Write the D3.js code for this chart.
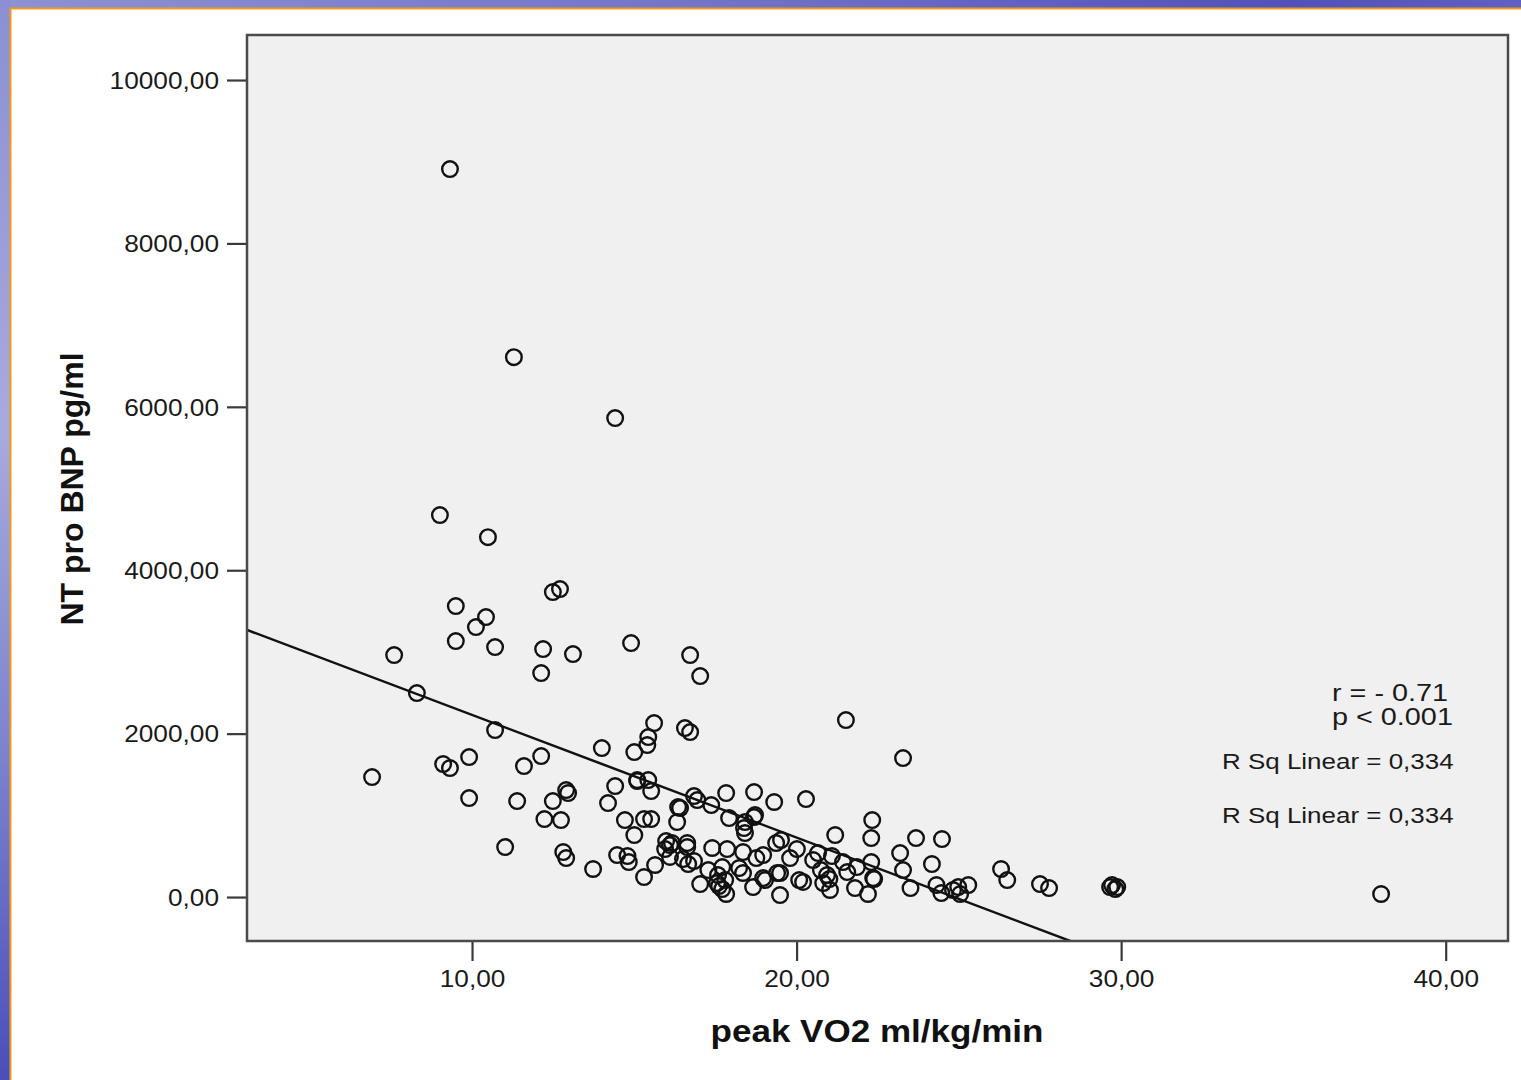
<!DOCTYPE html>
<html>
<head>
<meta charset="utf-8">
<script src="https://cdn.jsdelivr.net/npm/d3@7"></script>
<style>
  html, body { margin: 0; padding: 0; background: #ffffff; }
  svg { display: block; font-family: "Liberation Sans", Arial, sans-serif; }
</style>
</head>
<body>
<svg id="chart" width="1521" height="1080"></svg>
<script>
// peak VO2 (ml/kg/min) for each patient
const peakVO2 = [
  9.32, 11.29, 14.41, 9.01, 10.49, 12.49, 12.71, 9.50, 10.43, 10.12,
  9.50, 10.71, 12.19, 13.11, 14.90, 7.60, 12.13, 16.72, 17.03, 8.30,
  15.61, 21.52, 16.56, 16.72, 10.71, 15.43, 15.40, 15.00, 14.00, 23.28,
  12.13, 9.91, 9.11, 9.32, 11.60, 6.92, 15.09, 15.43, 14.41, 15.52,
  12.90, 12.96, 9.91, 11.39, 12.49, 14.19, 16.84, 16.94, 17.37, 17.83,
  18.69, 19.31, 20.29, 16.41, 12.23, 12.74, 15.52, 15.30, 14.71, 16.32,
  17.92, 18.69, 18.38, 18.41, 22.33, 15.00, 21.19, 22.30, 23.68, 24.48,
  19.37, 19.52, 15.98, 16.16, 16.63, 15.95, 17.40, 17.86, 20.01, 18.35,
  20.66, 23.19, 11.02, 12.81, 12.90, 14.47, 14.79, 14.83, 15.64, 16.50,
  16.66, 16.84, 18.76, 18.97, 19.80, 21.09, 21.43, 22.30, 24.17, 26.30,
  13.73, 17.28, 17.71, 18.23, 18.35, 19.49, 20.75, 20.94, 23.28, 22.39,
  15.30, 19.03, 20.08, 20.20, 20.82, 21.01, 17.03, 17.55, 17.61, 17.71,
  17.83, 18.66, 19.49, 21.80, 22.20, 21.03, 23.51, 24.31, 24.46, 24.98,
  25.04, 25.29, 26.49, 27.50, 27.78, 29.66, 29.82, 29.88, 38.01, 29.72,
  17.58, 17.80, 20.51, 21.56, 21.86, 22.36, 18.97, 19.40, 16.10, 16.63,
  16.10, 18.41, 18.72, 16.35, 15.09, 24.82
];

// NT pro BNP (pg/ml), same order as peakVO2
const ntProBNP = [
  8910, 6608, 5862, 4675, 4405, 3733, 3769, 3561, 3427, 3304,
  3133, 3059, 3035, 2974, 3108, 2961, 2741, 2961, 2704, 2496,
  2129, 2166, 2068, 2019, 2044, 1958, 1860, 1774, 1823, 1701,
  1725, 1713, 1628, 1579, 1603, 1468, 1432, 1432, 1358, 1297,
  1309, 1273, 1211, 1175, 1175, 1150, 1236, 1187, 1126, 1273,
  1285, 1163, 1199, 1089, 954, 942, 954, 954, 942, 918,
  967, 979, 844, 783, 942, 759, 759, 722, 722, 710,
  661, 698, 685, 661, 661, 587, 600, 587, 587, 551,
  538, 538, 612, 551, 477, 514, 502, 428, 392, 465,
  404, 441, 477, 514, 477, 502, 428, 428, 404, 343,
  343, 330, 367, 355, 294, 294, 330, 269, 330, 220,
  245, 208, 208, 184, 171, 220, 159, 171, 135, 98,
  37, 122, 24, 110, 37, 86, 110, 147, 49, 122,
  37, 147, 208, 159, 110, 122, 98, 122, 37, 147,
  269, 208, 453, 306, 367, 232, 232, 294, 490, 612,
  636, 918, 1004, 1101, 1420, 86
];

const xTicks = [10, 20, 30, 40];
const yTicks = [0, 2000, 4000, 6000, 8000, 10000];

// linear fit line: BNP = fitIntercept + fitSlope * VO2
const fitIntercept = 3730;
const fitSlope = -150.1;

const annotationLines = ["r = - 0.71", "p < 0.001"];
const rsqLabel = "R Sq Linear = 0,334";

const svg = d3.select("#chart");
const W = 1521, H = 1080;

// slide frame: blue band on top and left, white panel with orange edge
const defs = svg.append("defs");
const gTop = defs.append("linearGradient").attr("id", "bandTop")
  .attr("x1", 0).attr("x2", 1).attr("y1", 0).attr("y2", 0);
gTop.append("stop").attr("offset", "0%").attr("stop-color", "#8e91d2");
gTop.append("stop").attr("offset", "50%").attr("stop-color", "#6f73c6");
gTop.append("stop").attr("offset", "85%").attr("stop-color", "#5052b8");
gTop.append("stop").attr("offset", "100%").attr("stop-color", "#5f62bf");
const gLeft = defs.append("linearGradient").attr("id", "bandLeft")
  .attr("x1", 0).attr("x2", 0).attr("y1", 0).attr("y2", 1);
gLeft.append("stop").attr("offset", "0%").attr("stop-color", "#8c8fd2");
gLeft.append("stop").attr("offset", "40%").attr("stop-color", "#a7abdc");
gLeft.append("stop").attr("offset", "70%").attr("stop-color", "#7d82cc");
gLeft.append("stop").attr("offset", "100%").attr("stop-color", "#4a4fb8");

svg.append("rect").attr("x", 0).attr("y", 0).attr("width", W).attr("height", 8).attr("fill", "url(#bandTop)");
svg.append("rect").attr("x", 0).attr("y", 0).attr("width", 10).attr("height", H).attr("fill", "url(#bandLeft)");
svg.append("rect").attr("x", 10).attr("y", 8).attr("width", W - 10).attr("height", H - 8).attr("fill", "#ffffff");
svg.append("path")
  .attr("d", `M10.5,${H} L10.5,8.5 L${W},8.5`)
  .attr("fill", "none").attr("stroke", "#f39a1c").attr("stroke-width", 2);

// plot area
const plot = { left: 247, top: 35, right: 1508, bottom: 941 };

const x = d3.scaleLinear().domain([3.066, 41.92]).range([plot.left, plot.right]);
const y = d3.scaleLinear().domain([-538, 10551]).range([plot.bottom, plot.top]);

const fmt = d => d3.format(".2f")(d).replace(".", ",");

// stretch text horizontally to the wide face used in the chart
function stretch(sel, k) {
  sel.each(function () {
    const w = this.getComputedTextLength();
    this.setAttribute("textLength", (w * k).toFixed(1));
    this.setAttribute("lengthAdjust", "spacingAndGlyphs");
  });
}

svg.append("rect")
  .attr("x", plot.left).attr("y", plot.top)
  .attr("width", plot.right - plot.left).attr("height", plot.bottom - plot.top)
  .attr("fill", "#f0f0f0");

defs.append("clipPath").attr("id", "plotClip")
  .append("rect")
  .attr("x", plot.left).attr("y", plot.top)
  .attr("width", plot.right - plot.left).attr("height", plot.bottom - plot.top);

// y axis
const yAxis = svg.append("g")
  .attr("transform", `translate(${plot.left},0)`)
  .call(d3.axisLeft(y).tickValues(yTicks).tickFormat(fmt).tickSize(20).tickPadding(8));
yAxis.select(".domain").remove();
yAxis.selectAll(".tick line").attr("stroke", "#3a3a3a").attr("stroke-width", 2.2);
yAxis.selectAll(".tick text")
  .attr("font-size", 23).attr("fill", "#1a1a1a")
  .attr("font-family", "Liberation Sans, Arial, sans-serif")
  .attr("dy", "0.36em")
  .call(stretch, 1.14);

// x axis
const xAxis = svg.append("g")
  .attr("transform", `translate(0,${plot.bottom})`)
  .call(d3.axisBottom(x).tickValues(xTicks).tickFormat(fmt).tickSize(20).tickPadding(10));
xAxis.select(".domain").remove();
xAxis.selectAll(".tick line").attr("stroke", "#3a3a3a").attr("stroke-width", 2.2);
xAxis.selectAll(".tick text")
  .attr("font-size", 23).attr("fill", "#1a1a1a")
  .attr("font-family", "Liberation Sans, Arial, sans-serif")
  .call(stretch, 1.14);

// regression line
const fit = v => fitIntercept + fitSlope * v;
const xd = x.domain();
svg.append("line")
  .attr("clip-path", "url(#plotClip)")
  .attr("x1", x(xd[0])).attr("y1", y(fit(xd[0])))
  .attr("x2", x(xd[1])).attr("y2", y(fit(xd[1])))
  .attr("stroke", "#111").attr("stroke-width", 2.5);

// data points
svg.append("g")
  .attr("clip-path", "url(#plotClip)")
  .selectAll("circle")
  .data(peakVO2.map((v, i) => [v, ntProBNP[i]]))
  .join("circle")
  .attr("cx", d => x(d[0]))
  .attr("cy", d => y(d[1]))
  .attr("r", 7.8)
  .attr("fill", "none")
  .attr("stroke", "#111")
  .attr("stroke-width", 2.4);

// plot frame
svg.append("rect")
  .attr("x", plot.left).attr("y", plot.top)
  .attr("width", plot.right - plot.left).attr("height", plot.bottom - plot.top)
  .attr("fill", "none").attr("stroke", "#4a4a4a").attr("stroke-width", 2.5);

// statistics annotation
const ann = svg.append("g").attr("fill", "#1a1a1a");
ann.selectAll("text.rp")
  .data(annotationLines)
  .join("text")
  .attr("class", "rp")
  .attr("font-size", 24)
  .attr("x", 1332)
  .attr("y", (d, i) => 701 + i * 24)
  .text(d => d)
  .call(stretch, 1.2);
ann.selectAll("text.rsq")
  .data([rsqLabel, rsqLabel])
  .join("text")
  .attr("class", "rsq")
  .attr("font-size", 22)
  .attr("x", 1222)
  .attr("y", (d, i) => 769 + i * 54)
  .text(d => d)
  .call(stretch, 1.18);

// axis titles
svg.append("text")
  .attr("x", (plot.left + plot.right) / 2 - 0.5)
  .attr("y", 1042)
  .attr("text-anchor", "middle")
  .attr("font-size", 31).attr("font-weight", "bold").attr("fill", "#111")
  .text("peak VO2 ml/kg/min")
  .call(stretch, 1.13);

svg.append("text")
  .attr("transform", "translate(83,489) rotate(-90)")
  .attr("text-anchor", "middle")
  .attr("font-size", 32).attr("font-weight", "bold").attr("fill", "#111")
  .text("NT pro BNP pg/ml");
</script>
</body>
</html>
